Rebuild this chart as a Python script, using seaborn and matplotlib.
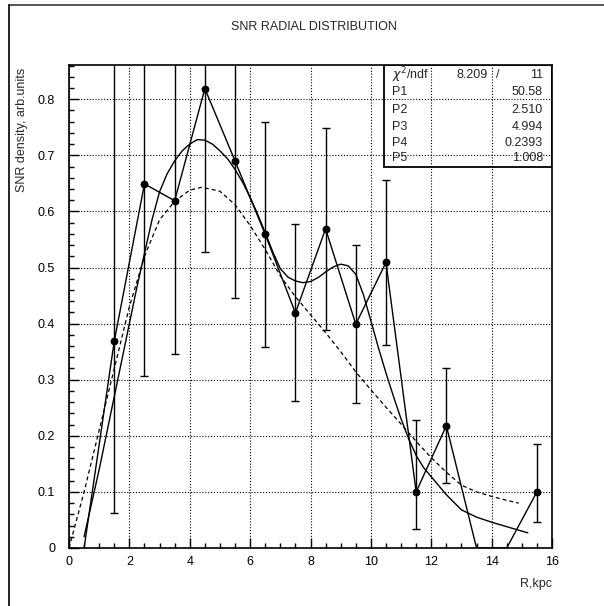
import matplotlib
matplotlib.use("Agg")
import matplotlib.pyplot as plt
import seaborn as sns
import pandas as pd
from matplotlib.lines import Line2D
from matplotlib.patches import Rectangle
from matplotlib.ticker import MultipleLocator, FuncFormatter

# ---------------- data ----------------
# histogram bins (polyline through bin contents, zero bins included)
bin_r = [0.5, 1.5, 2.5, 3.5, 4.5, 5.5, 6.5, 7.5, 8.5, 9.5, 10.5, 11.5, 12.5, 13.5, 14.5, 15.5]
bin_density = [0.0, 0.369, 0.649, 0.619, 0.819, 0.690, 0.559, 0.419, 0.569, 0.399, 0.509, 0.100, 0.218, 0.0, 0.0, 0.100]

# measured points with error bars (non-empty bins)
pt_r = [1.5, 2.5, 3.5, 4.5, 5.5, 6.5, 7.5, 8.5, 9.5, 10.5, 11.5, 12.5, 15.5]
pt_density = [0.369, 0.649, 0.619, 0.819, 0.690, 0.559, 0.419, 0.569, 0.399, 0.509, 0.100, 0.218, 0.100]
pt_low = [0.062, 0.307, 0.346, 0.528, 0.445, 0.358, 0.262, 0.389, 0.259, 0.362, 0.034, 0.116, 0.046]
pt_high = [0.90, 1.00, 0.95, 1.10, 0.95, 0.759, 0.578, 0.749, 0.540, 0.656, 0.228, 0.320, 0.185]

# fitted curve (solid)
fit_r = [0.5, 0.75, 1.0, 1.25, 1.5, 1.75, 2.0, 2.25, 2.5, 2.75, 3.0, 3.25, 3.5, 3.75, 4.0,
         4.25, 4.5, 4.75, 5.0, 5.25, 5.5, 5.75, 6.0, 6.25, 6.5, 6.75, 7.0, 7.25, 7.5, 7.75,
         8.0, 8.25, 8.5, 8.75, 9.0, 9.25, 9.5, 9.75, 10.0, 10.25, 10.5, 10.75, 11.0, 11.25,
         11.5, 11.75, 12.0, 12.5, 13.0, 13.5, 14.0, 14.5, 15.2]
fit_density = [0.02, 0.08, 0.14, 0.205, 0.27, 0.335, 0.40, 0.465, 0.525, 0.585, 0.635, 0.667,
               0.69, 0.708, 0.72, 0.728, 0.727, 0.72, 0.708, 0.694, 0.675, 0.652, 0.625, 0.595,
               0.562, 0.528, 0.498, 0.483, 0.476, 0.473, 0.475, 0.482, 0.492, 0.501, 0.506,
               0.503, 0.488, 0.452, 0.405, 0.357, 0.312, 0.27, 0.23, 0.195, 0.165, 0.143,
               0.127, 0.095, 0.068, 0.055, 0.046, 0.038, 0.027]

# reference model (dashed)
model_r = [0.0, 0.5, 1.0, 1.5, 2.0, 2.5, 3.0, 3.5, 4.0, 4.4, 5.0, 5.5, 6.0, 6.5, 7.0, 7.5,
           8.0, 8.5, 9.0, 9.5, 10.0, 10.5, 11.0, 11.5, 12.0, 12.5, 13.0, 13.5, 14.0, 14.5, 14.9]
model_density = [0.0, 0.10, 0.21, 0.32, 0.43, 0.52, 0.585, 0.618, 0.638, 0.643, 0.636, 0.612,
                 0.575, 0.532, 0.485, 0.448, 0.416, 0.384, 0.35, 0.314, 0.282, 0.251, 0.221,
                 0.19, 0.161, 0.135, 0.112, 0.10, 0.092, 0.085, 0.08]

title = "SNR RADIAL DISTRIBUTION"
x_label = "R,kpc"
y_label = "SNR density, arb.units"
stat_labels = ["P1", "P2", "P3", "P4", "P5"]
stat_values = ["50.58", "2.510", "4.994", "0.2393", "1.008"]
chi2_value = "8.209"
ndf_value = "11"

# ---------------- style ----------------
sns.set_style("white")
plt.rcParams["font.family"] = ["Liberation Sans", "DejaVu Sans"]
plt.rcParams["mathtext.fontset"] = "dejavusans"

W, H = 604, 606
fig = plt.figure(figsize=(W / 100, H / 100), dpi=100)
fig.patch.set_facecolor("white")

def fx(px):
    return px / W

def fy(py):
    return 1 - py / H

ax_l, ax_r, ax_t, ax_b = 69, 552, 65, 548
ax = fig.add_axes([fx(ax_l), fy(ax_b), (ax_r - ax_l) / W, (ax_b - ax_t) / H])
ax.set_facecolor("white")

# figure frame (top and left edges visible)
fig.add_artist(Line2D([fx(8.5), 1.0], [fy(4.5), fy(4.5)], transform=fig.transFigure,
                      color="#555555", lw=1.4))
fig.add_artist(Line2D([fx(8.5), fx(8.5)], [fy(4.5), 0.0], transform=fig.transFigure,
                      color="black", lw=1.2))

df_bins = pd.DataFrame({"r": bin_r, "d": bin_density})
df_fit = pd.DataFrame({"r": fit_r, "d": fit_density})
df_model = pd.DataFrame({"r": model_r, "d": model_density})
df_pts = pd.DataFrame({"r": pt_r, "d": pt_density})

sns.lineplot(data=df_bins, x="r", y="d", ax=ax, color="black", lw=1.0,
             estimator=None, sort=False, zorder=2)
sns.lineplot(data=df_fit, x="r", y="d", ax=ax, color="black", lw=1.0,
             estimator=None, sort=False, zorder=2)
sns.lineplot(data=df_model, x="r", y="d", ax=ax, color="black", lw=0.9,
             estimator=None, sort=False, zorder=2)
ax.lines[-1].set_linestyle((0, (3.2, 2.4)))

yerr = [[v - lo for v, lo in zip(pt_density, pt_low)],
        [hi - v for v, hi in zip(pt_density, pt_high)]]
ax.errorbar(pt_r, pt_density, yerr=yerr, fmt="none", ecolor="black",
            elinewidth=1.0, capsize=2.8, capthick=1.0, zorder=2)
sns.scatterplot(data=df_pts, x="r", y="d", ax=ax, color="black", s=32,
                edgecolor="black", linewidth=0, zorder=3)

ax.set_xlim(0, 16)
ax.set_ylim(0, 0.861)
ax.xaxis.set_major_locator(MultipleLocator(2))
ax.xaxis.set_minor_locator(MultipleLocator(0.5))
ax.yaxis.set_major_locator(MultipleLocator(0.1))
ax.yaxis.set_minor_locator(MultipleLocator(0.02))
ax.set_xlabel("")
ax.set_ylabel("")
ax.xaxis.set_major_formatter(FuncFormatter(lambda v, p: f"{v:g}"))
ax.yaxis.set_major_formatter(FuncFormatter(lambda v, p: f"{v:g}"))

ax.tick_params(which="both", direction="in", top=False, right=False,
               left=True, bottom=True, colors="black", labelsize=9)
ax.tick_params(which="major", length=7, width=1.0)
ax.tick_params(which="minor", length=3.5, width=1.0)
ax.tick_params(axis="x", pad=6)
ax.tick_params(axis="y", pad=10)

ax.set_axisbelow(False)
ax.grid(True, which="major", color="black", lw=0.8, linestyle=(0, (1, 1.6)))
for s in ax.spines.values():
    s.set_color("black")
    s.set_linewidth(1.2)
    s.set_visible(True)

# stats box (grid runs over it)
box_l, box_b = 384, 167
tr = fig.transFigure
ax.add_patch(Rectangle((fx(box_l), fy(box_b)), fx(ax_r) - fx(box_l), fy(ax_t) - fy(box_b),
                       transform=tr, facecolor="white", edgecolor="black", lw=1.3, zorder=2.2))
fs = 9
row_y = [75, 92, 110, 127, 143, 158]
fig.text(fx(392), fy(row_y[0]), r"$\chi^2$/ndf", ha="left", va="center", fontsize=fs)
fig.text(fx(488), fy(row_y[0]), chi2_value, ha="right", va="center", fontsize=fs)
fig.text(fx(498), fy(row_y[0]), "/", ha="center", va="center", fontsize=fs)
fig.text(fx(543), fy(row_y[0]), ndf_value, ha="right", va="center", fontsize=fs)
for lab, val, yy in zip(stat_labels, stat_values, row_y[1:]):
    fig.text(fx(392), fy(yy), lab, ha="left", va="center", fontsize=fs)
    fig.text(fx(543), fy(yy), val, ha="right", va="center", fontsize=fs)

fig.text(fx(314), fy(27), title, ha="center", va="center", fontsize=9)
fig.text(fx(22), fy(68), y_label, rotation=90, ha="center", va="top", fontsize=9)
fig.text(fx(552), fy(584), x_label, ha="right", va="center", fontsize=9)

fig.savefig("out.png", dpi=100, facecolor="white")
